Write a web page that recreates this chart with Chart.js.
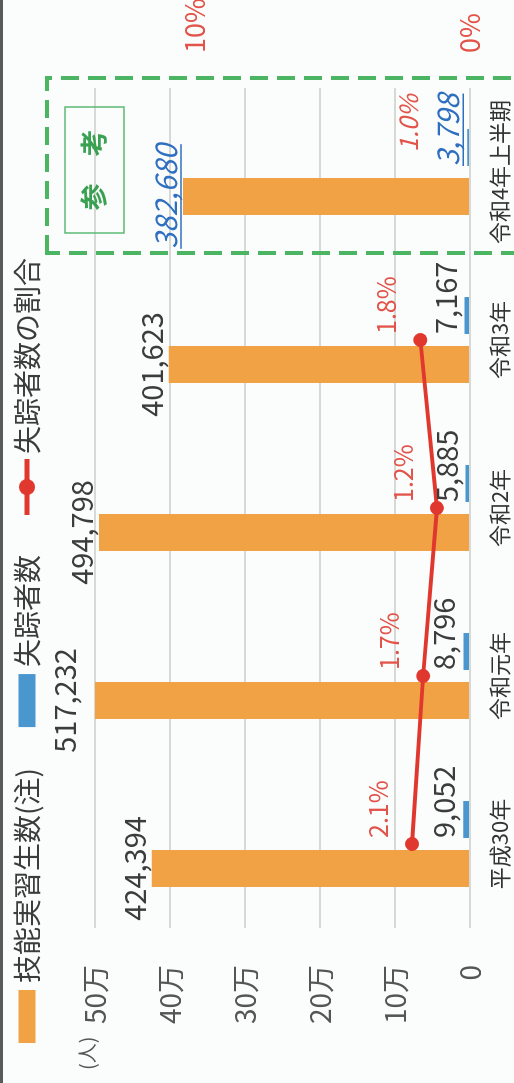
<!DOCTYPE html>
<html lang="ja">
<head>
<meta charset="utf-8">
<title>技能実習生数と失踪者数</title>
<script src="https://cdn.jsdelivr.net/npm/chart.js@4.4.1/dist/chart.umd.min.js"></script>
<style>
  html, body { margin: 0; padding: 0; background: #fbfcfc; }
  body { width: 514px; height: 1083px; overflow: hidden; position: relative; }
  /* the chart is drawn landscape and turned a quarter left */
  #myChart { position: absolute; left: 0; top: 0; transform-origin: 0 0; transform: translate(0, 1083px) rotate(-90deg); }
  #edge { position: absolute; left: 0; top: 0; width: 3px; height: 1083px; background: #5a5a5a; }
</style>
</head>
<body>
<canvas id="myChart" width="1083" height="514"></canvas>
<div id="edge"></div>
<script>
// data
const categories = ['平成30年', '令和元年', '令和2年', '令和3年', '令和4年上半期'];
const trainees = [424394, 517232, 494798, 401623, 382680];
const missing = [9052, 8796, 5885, 7167, 3798];
const missingRate = [2.1, 1.7, 1.2, 1.8, 1.0];
const leftTickLabels = ['0', '10万', '20万', '30万', '40万', '50万'];
const rightTicks = [0, 10];
const rateAxisMax = 13.6;
const referenceIndex = 4; // 令和4年上半期 = 参考

// colours + fonts
const FONT = "'Noto Sans CJK JP', 'Noto Sans', sans-serif";
const ORANGE = '#f0a245';
const BLUE = '#4a97d0';
const RED = '#e0382e';
const RED_TEXT = '#e25449';
const BLUE_TEXT = '#2f6fc0';
const GREEN = '#4cb564';
const TEXT = '#3c3c3c';

Chart.defaults.font.family = FONT;

function withCommas(n) {
  return String(n).replace(/\B(?=(\d{3})+(?!\d))/g, ',');
}

// little picture for the line legend entry
function lineLegendIcon() {
  const c = document.createElement('canvas');
  c.width = 56; c.height = 22;
  const g = c.getContext('2d');
  g.strokeStyle = RED; g.lineWidth = 5;
  g.beginPath(); g.moveTo(0, 11); g.lineTo(56, 11); g.stroke();
  g.fillStyle = RED;
  g.beginPath(); g.arc(28, 11, 8, 0, Math.PI * 2); g.fill();
  return c;
}

const background = {
  id: 'background',
  beforeDraw(chart) {
    const ctx = chart.ctx;
    ctx.save();
    ctx.fillStyle = '#fbfcfc';
    ctx.fillRect(0, 0, chart.width, chart.height);
    ctx.restore();
  }
};

function underline(ctx, text, x, y, align) {
  const w = ctx.measureText(text).width;
  const left = align === 'center' ? x - w / 2 : x;
  ctx.save();
  ctx.strokeStyle = ctx.fillStyle;
  ctx.lineWidth = 1.5;
  ctx.beginPath(); ctx.moveTo(left, y + 4); ctx.lineTo(left + w, y + 4); ctx.stroke();
  ctx.restore();
}

// numbers over the bars and the line
const valueLabels = {
  id: 'valueLabels',
  afterDatasetsDraw(chart) {
    const ctx = chart.ctx;
    const x = chart.scales.x;
    const y1 = chart.scales.y1;
    const traineeBars = chart.getDatasetMeta(0).data;
    const missingBars = chart.getDatasetMeta(1).data;
    const points = chart.getDatasetMeta(2).data;
    ctx.save();
    ctx.textBaseline = 'alphabetic';
    traineeBars.forEach((bar, i) => {
      const ref = i === referenceIndex;
      const txt = withCommas(trainees[i]);
      ctx.font = (ref ? 'italic ' : '') + '29px ' + FONT;
      ctx.fillStyle = ref ? BLUE_TEXT : TEXT;
      ctx.textAlign = 'center';
      ctx.fillText(txt, bar.x, bar.y - 6);
      if (ref) underline(ctx, txt, bar.x, bar.y - 6, 'center');
    });
    missingBars.forEach((bar, i) => {
      const ref = i === referenceIndex;
      const txt = withCommas(missing[i]);
      const left = bar.x - bar.width / 2;
      ctx.font = (ref ? 'italic ' : '') + '29px ' + FONT;
      ctx.fillStyle = ref ? BLUE_TEXT : TEXT;
      ctx.textAlign = 'left';
      ctx.fillText(txt, left, bar.y - 8);
      if (ref) underline(ctx, txt, left, bar.y - 8, 'left');
    });
    missingRate.forEach((v, i) => {
      const ref = i === referenceIndex;
      const px = ref ? x.getPixelForValue(i) + 20 : points[i].x + 6;
      const py = y1.getPixelForValue(v) - 24;
      ctx.font = (ref ? 'italic ' : '') + '25px ' + FONT;
      ctx.fillStyle = RED_TEXT;
      ctx.textAlign = 'left';
      ctx.fillText(v.toFixed(1) + '%', px, py);
    });
    ctx.restore();
  }
};

// legend, unit and the 参考 frame
const extras = {
  id: 'extras',
  afterDraw(chart) {
    const ctx = chart.ctx;
    const area = chart.chartArea;
    const x = chart.scales.x;
    ctx.save();

    // legend
    const items = chart.data.datasets.map(ds => ({ text: ds.label, color: ds.borderColor || ds.backgroundColor, type: ds.type }));
    let cx = 40;
    const cy = 27;
    ctx.font = '28px ' + FONT;
    ctx.textBaseline = 'middle';
    ctx.textAlign = 'left';
    items.forEach(it => {
      if (it.type === 'line') {
        ctx.drawImage(lineLegendIcon(), cx - 1, cy - 11);
      } else {
        ctx.fillStyle = it.color;
        ctx.fillRect(cx, cy - 8.5, 53, 17);
      }
      cx += 53 + 7;
      ctx.fillStyle = TEXT;
      ctx.fillText(it.text, cx, cy);
      cx += ctx.measureText(it.text).width + 41;
    });

    // unit
    ctx.font = '20px ' + FONT;
    ctx.fillStyle = '#555';
    ctx.fillText('(人)', 13, area.top - 8);

    // dashed frame round the reference column
    const half = (x.getPixelForValue(1) - x.getPixelForValue(0)) / 2;
    const mid = x.getPixelForValue(referenceIndex);
    ctx.strokeStyle = GREEN;
    ctx.lineWidth = 4;
    ctx.setLineDash([18, 9]);
    ctx.strokeRect(mid - half + 3, area.top - 48, 2 * half + 7, chart.height + 60);
    ctx.setLineDash([]);

    // 参考 box
    ctx.lineWidth = 1.5;
    ctx.strokeStyle = '#5cb973';
    ctx.strokeRect(mid - 61, area.top - 30, 126, 59);
    ctx.font = 'bold 27px ' + FONT;
    ctx.fillStyle = '#3aa152';
    ctx.textAlign = 'center';
    ctx.fillText('参　考', mid + 2, area.top - 1);
    ctx.restore();
  }
};

// tick padding would otherwise also be added above/below the plot
function fixedWidth(w) {
  return axis => {
    axis.width = w;
    axis.paddingTop = 0;
    axis.paddingBottom = 0;
  };
}

const config = {
  data: {
    labels: categories,
    datasets: [
      {
        type: 'bar',
        label: '技能実習生数(注)',
        data: trainees,
        backgroundColor: ORANGE,
        categoryPercentage: 0.583,
        barPercentage: 0.755,
        yAxisID: 'y',
        order: 2
      },
      {
        type: 'bar',
        label: '失踪者数',
        data: missing,
        backgroundColor: BLUE,
        categoryPercentage: 0.583,
        barPercentage: 0.755,
        yAxisID: 'y',
        order: 2
      },
      {
        type: 'line',
        label: '失踪者数の割合',
        data: missingRate.map((v, i) => (i === referenceIndex ? null : v)),
        borderColor: RED,
        backgroundColor: RED,
        borderWidth: 4,
        pointRadius: 7,
        pointBackgroundColor: RED,
        pointBorderWidth: 0,
        yAxisID: 'y1',
        order: 1
      }
    ]
  },
  options: {
    responsive: false,
    animation: false,
    events: [],
    layout: { autoPadding: false, padding: { top: 95, left: 0, right: 0, bottom: 0 } },
    plugins: {
      legend: { display: false },
      tooltip: { enabled: false }
    },
    scales: {
      x: {
        type: 'category',
        grid: { display: false, drawTicks: false },
        border: { display: false },
        ticks: { font: { size: 22 }, color: '#333', padding: 16, maxRotation: 0, autoSkip: false },
        afterFit: axis => { axis.height = 44; }
      },
      y: {
        position: 'left',
        min: 0,
        max: 500000,
        grid: { color: '#d7d9d5', lineWidth: 2, drawTicks: false },
        border: { display: false },
        ticks: {
          stepSize: 100000,
          font: { size: 28 },
          color: '#555',
          padding: 37,
          callback: (v, i) => leftTickLabels[i]
        },
        afterFit: fixedWidth(155)
      },
      y1: {
        position: 'right',
        min: 0,
        max: rateAxisMax,
        grid: { display: false, drawTicks: false },
        border: { display: false },
        afterBuildTicks: axis => { axis.ticks = rightTicks.map(v => ({ value: v })); },
        ticks: { font: { size: 27 }, color: RED_TEXT, padding: 35, callback: v => v + '%' },
        afterFit: fixedWidth(88)
      }
    }
  },
  plugins: [background, valueLabels, extras]
};

let chart;

function createChart() {
  const ctx = document.getElementById('myChart').getContext('2d');
  if (chart) {
    chart.destroy();
  }
  chart = new Chart(ctx, config);
}

window.onload = createChart;
</script>
</body>
</html>
